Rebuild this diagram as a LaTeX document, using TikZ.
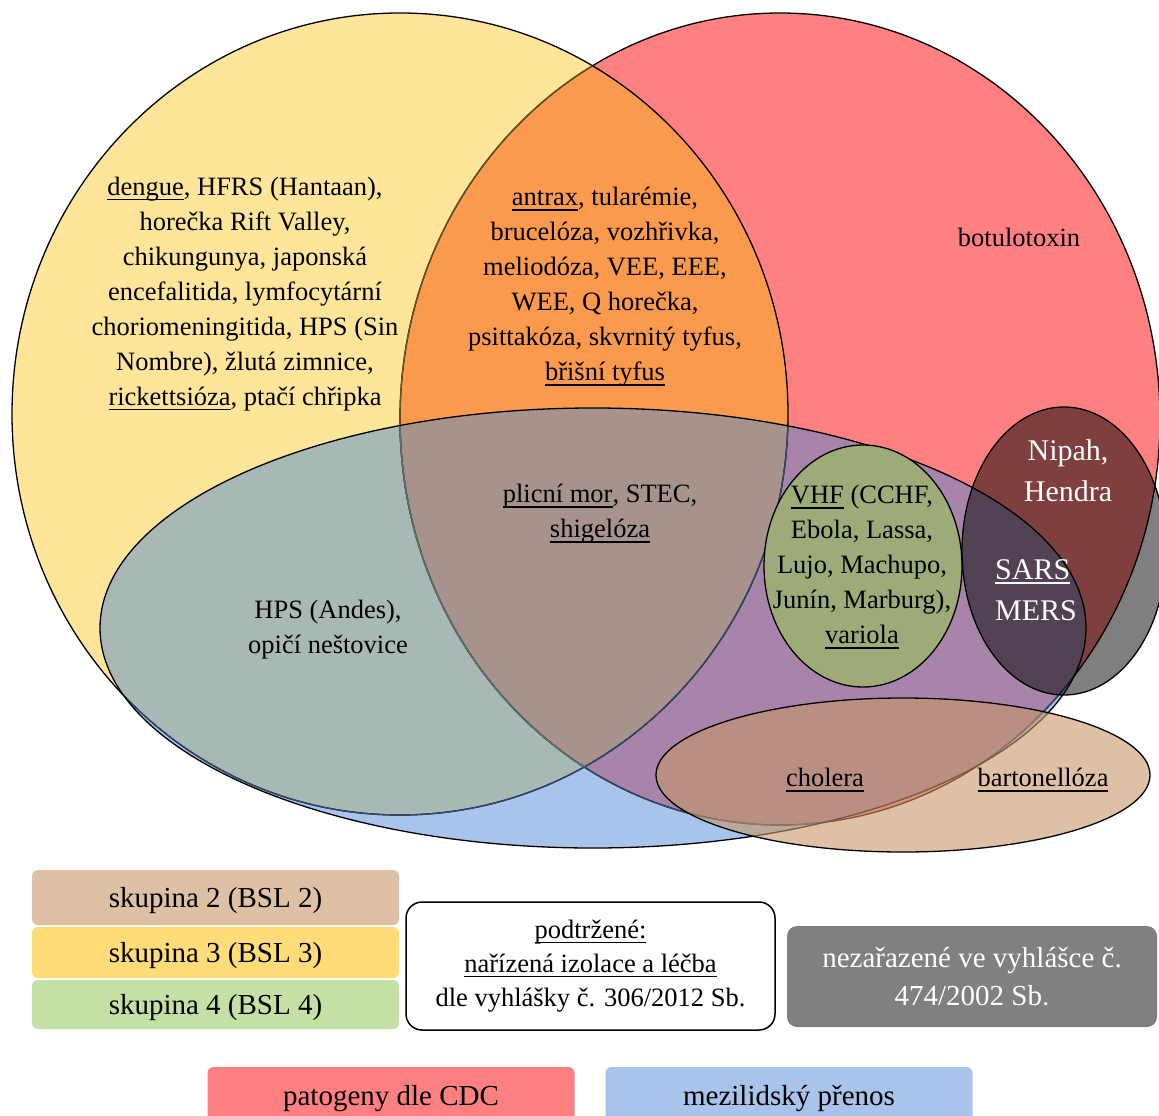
\documentclass[tikz,border=0pt]{standalone}
\usepackage{fontspec}
\setmainfont{Liberation Serif}
\usepackage{tikz}

\definecolor{skup3}{RGB}{255,229,153}
\definecolor{cdc}{RGB}{255,128,128}
\definecolor{prenos}{RGB}{169,196,235}
\definecolor{skup3cdc}{RGB}{251,153,77}
\definecolor{skup3prenos}{RGB}{168,184,180}
\definecolor{cdcprenos}{RGB}{168,132,170}
\definecolor{vsechny}{RGB}{167,146,140}
\definecolor{skup4}{RGB}{157,171,120}
\definecolor{skup2}{RGB}{200,150,105}
\definecolor{leg3}{RGB}{255,220,120}
\definecolor{leg4}{RGB}{197,224,165}
\definecolor{nezar}{RGB}{128,128,128}
\definecolor{hranamodra}{RGB}{45,75,110}
\definecolor{hranaoliv}{RGB}{105,85,35}
\definecolor{hranaseda}{RGB}{95,112,112}

% underline at a fixed depth
\newcommand{\podtr}[1]{\setbox0\hbox{#1}\rlap{\rule[-5pt]{\wd0}{1.8pt}}\box0\relax}

\begin{document}
\begin{tikzpicture}[x=1pt,y=-1pt,
  txt/.style={align=center,font=\fontsize{26.5}{35}\selectfont,inner sep=0pt},
  bily/.style={txt,text=white,font=\fontsize{30}{41}\selectfont},
  legtxt/.style={align=center,font=\fontsize{29}{38}\selectfont,inner sep=0pt},
  legbox/.style={legtxt,minimum width=367pt,rounded corners=6pt,text depth=0pt},
  hrana/.style={line width=1.3pt}]

\useasboundingbox (0,0) rectangle (1159,1116);

\def\skupIII{(400,414) ellipse [x radius=388, y radius=401]}
\def\cdcR{(780,419) ellipse [x radius=380, y radius=406]}
\def\prenosB{(593,628) ellipse [x radius=493, y radius=220]}

% Areas of the three big ellipses
\fill[skup3] \skupIII;
\fill[cdc] \cdcR;
\fill[prenos] \prenosB;
\begin{scope}
\clip \skupIII;
\fill[skup3cdc] \cdcR;
\fill[skup3prenos] \prenosB;
\end{scope}
\begin{scope}
\clip \cdcR;
\fill[cdcprenos] \prenosB;
\clip \skupIII;
\fill[vsechny] \prenosB;
\end{scope}

% Outlines
\draw[hrana] \skupIII;
\draw[hrana] \cdcR;
\begin{scope}
\clip \skupIII;
\draw[hrana,hranaoliv] \cdcR;
\end{scope}
\begin{scope}
\clip \prenosB;
\draw[hrana,hranamodra] \skupIII;
\draw[hrana,hranamodra] \cdcR;
\clip \skupIII;
\draw[hrana,hranaseda] \cdcR;
\end{scope}
\draw[hrana] \prenosB;

% Small ellipses
\filldraw[hrana,fill=skup4] (863,566) ellipse [x radius=99, y radius=121];
\filldraw[hrana,fill=black,fill opacity=0.5] (1064,551) ellipse [x radius=102, y radius=144];
\filldraw[hrana,fill=skup2,fill opacity=0.6] (903,775) ellipse [x radius=247, y radius=77];

% Texts in the diagram
\node[txt] (skup3txt) at (245,294) {\podtr{dengue}, HFRS (Hantaan),\\ horečka Rift Valley,\\ chikungunya, japonská\\ encefalitida, lymfocytární\\ choriomeningitida, HPS (Sin\\ Nombre), žlutá zimnice,\\ \podtr{rickettsióza}, ptačí chřipka};
\node[txt] (skup3cdctxt) at (605,287) {\podtr{antrax}, tularémie,\\ brucelóza, vozhřivka,\\ meliodóza, VEE, EEE,\\ WEE, Q horečka,\\ psittakóza, skvrnitý tyfus,\\ \podtr{břišní tyfus}};
\node[txt] (botul) at (1019,237) {botulotoxin};
\node[txt] (mor) at (600,514) {\podtr{plicní mor}, STEC,\\ \podtr{shigelóza}};
\node[txt] (hps) at (328,630) {HPS (Andes),\\ opičí neštovice};
\node[txt] (vhf) at (862,567) {\podtr{VHF} (CCHF,\\ Ebola, Lassa,\\ Lujo, Machupo,\\ Junín, Marburg),\\ \podtr{variola}};
\node[bily] (nipah) at (1068,471) {Nipah,\\ Hendra};
\node[bily,align=left] (sars) at (1036,590) {\podtr{SARS}\\ MERS};
\node[txt] (cholera) at (825,780) {\podtr{cholera}};
\node[txt] (barton) at (1043,780) {\podtr{bartonellóza}};

% Legend
\node[legbox,fill=skup2,fill opacity=0.6,text opacity=1,minimum height=55pt] (leg2) at (215.5,897.5) {skupina 2 (BSL 2)};
\node[legbox,fill=leg3,minimum height=51pt] (leg3) at (215.5,952.5) {skupina 3 (BSL 3)};
\node[legbox,fill=leg4,minimum height=49pt] (leg4) at (215.5,1004.5) {skupina 4 (BSL 4)};
\node[txt,draw,line width=1.5pt,rounded corners=16pt,minimum width=369pt,minimum height=128pt,font=\fontsize{26.5}{34}\selectfont] (podtrz) at (590.5,966) {\podtr{podtržené:}\\ \podtr{nařízená izolace a léčba}\\ dle vyhlášky č. 306/2012 Sb.};
\node[legtxt,fill=nezar,text=white,rounded corners=10pt,minimum width=370pt,minimum height=101pt] (nezartxt) at (972,976.5) {nezařazené ve vyhlášce č.\\ 474/2002 Sb.};
\node[legbox,fill=cdc,minimum height=56pt] (legcdc) at (391,1095) {patogeny dle CDC};
\node[legbox,fill=prenos,minimum height=56pt] (legprenos) at (789,1095) {mezilidský přenos};

\end{tikzpicture}
\end{document}
